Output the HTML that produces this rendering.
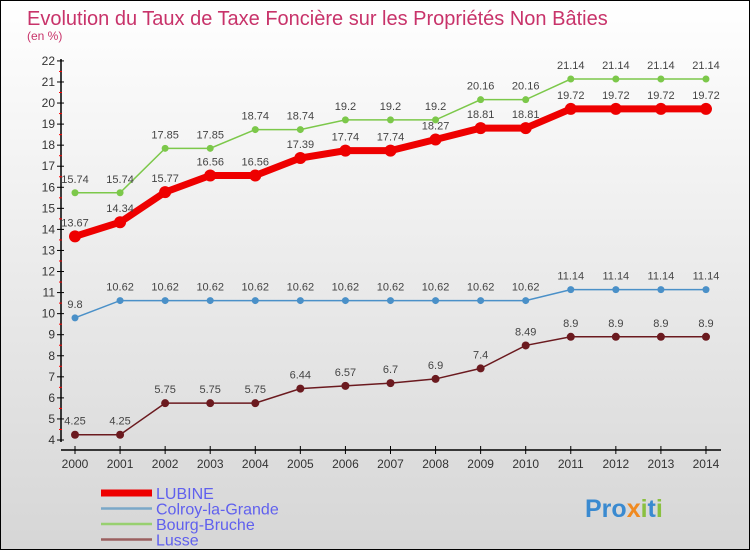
<!DOCTYPE html>
<html><head><meta charset="utf-8"><style>
body{margin:0}
#c{width:748px;height:548px;border:1px solid #000;background:linear-gradient(#fff,#d6d6d6);position:relative;overflow:hidden;font-family:"Liberation Sans",sans-serif}
</style></head><body>
<div id="c">
<svg id="s" width="748" height="548"></svg>
</div>
<script>
const years=[2000,2001,2002,2003,2004,2005,2006,2007,2008,2009,2010,2011,2012,2013,2014];
const lubine=[13.67,14.34,15.77,16.56,16.56,17.39,17.74,17.74,18.27,18.81,18.81,19.72,19.72,19.72,19.72];
const colroy=[9.8,10.62,10.62,10.62,10.62,10.62,10.62,10.62,10.62,10.62,10.62,11.14,11.14,11.14,11.14];
const bourg=[15.74,15.74,17.85,17.85,18.74,18.74,19.2,19.2,19.2,20.16,20.16,21.14,21.14,21.14,21.14];
const lusse=[4.25,4.25,5.75,5.75,5.75,6.44,6.57,6.7,6.9,7.4,8.49,8.9,8.9,8.9,8.9];
const yTicks=[4,5,6,7,8,9,10,11,12,13,14,15,16,17,18,19,20,21,22];
const s=document.getElementById('s');const NS='http://www.w3.org/2000/svg';
const X=i=>74+i*45.07, Y=v=>439-(v-4)*21.06;
function el(t,a,txt){const e=document.createElementNS(NS,t);for(const k in a)e.setAttribute(k,a[k]);if(txt!==undefined)e.textContent=txt;s.appendChild(e);return e;}
let t=el('text',{x:26,y:24,fill:'#c8336a','font-size':20},'Evolution du Taux de Taxe Foncière sur les Propriétés Non Bâties');

t=el('text',{x:26,y:39,fill:'#c8336a','font-size':12},'(en %)');

let a=el('line',{x1:60,y1:58,x2:60,y2:441,stroke:'#000','stroke-width':1.5});

a=el('line',{x1:60,y1:449,x2:720,y2:449,stroke:'#000','stroke-width':1.5});

yTicks.forEach((v,i)=>{
 el('line',{x1:56,x2:63,y1:Y(v),y2:Y(v),stroke:'#000'});
 if(i<yTicks.length-1)el('line',{x1:58,x2:61,y1:Y(v+.5),y2:Y(v+.5),stroke:'#f00'});
 const l=el('text',{x:54,y:Y(v)+4,'text-anchor':'end','font-size':12,fill:'#333'},v);
 
});
years.forEach((y,i)=>{
 el('line',{x1:X(i),x2:X(i),y1:445,y2:453,stroke:'#000'});
 const l=el('text',{x:X(i),y:467,'text-anchor':'middle','font-size':12,fill:'#333'},y);
 
});
function series(d,col,w,r,name){
 const p=el('polyline',{points:d.map((v,i)=>X(i)+','+Y(v)).join(' '),fill:'none',stroke:col,'stroke-width':w});
 
 d.forEach((v,i)=>{
  const c=el('circle',{cx:X(i),cy:Y(v),r:r,fill:col});
  
  const l=el('text',{x:X(i),y:Y(v)-10,'text-anchor':'middle','font-size':11,fill:'#444'},v);
  
 });
}
series(lusse,'#6b1a1f',1.5,4,'lusse');
series(colroy,'#4a90c8',1.5,3.5,'colroy');
series(bourg,'#7cc84a',1.5,3.5,'bourg');
series(lubine,'#ee0000',7,6,'lubine');
const leg=[['LUBINE','#ee0000',7],['Colroy-la-Grande','#7aa8c8',2.5],['Bourg-Bruche','#98d070',2.5],['Lusse','#9b6060',2.5]];
leg.forEach((g,i)=>{
 const yy=492+i*15.5;
 const ln=el('line',{x1:100,x2:151,y1:yy,y2:yy,stroke:g[1],'stroke-width':g[2]});
 
 const l=el('text',{x:155,y:yy+6,'font-size':16,fill:'#6060ee'},g[0]);
 
});
const pr=el('text',{x:584,y:516,'font-size':25,'font-weight':'bold',fill:'#3a8ad0'});

[['Pro','#3a8ad0'],['x','#f08a20'],['i','#8ac040'],['t','#3a8ad0'],['i','#8ac040']].forEach(p=>{
 const ts=document.createElementNS(NS,'tspan');ts.setAttribute('fill',p[1]);ts.textContent=p[0];pr.appendChild(ts);
});
</script>
</body></html>
